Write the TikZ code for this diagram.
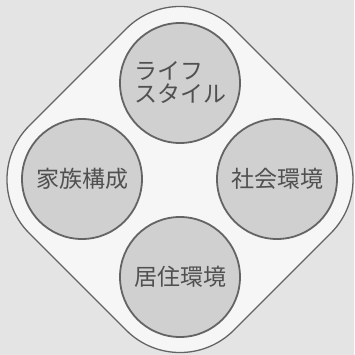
\documentclass[tikz,border=0pt]{standalone}
\usepackage{fontspec}
\newfontfamily\jpfont{Noto Sans CJK JP}
\definecolor{bgc}{RGB}{228,228,228}
\definecolor{diafill}{RGB}{246,246,246}
\definecolor{linec}{RGB}{100,100,100}
\definecolor{circfill}{RGB}{208,208,208}
\definecolor{textc}{RGB}{80,80,80}
\begin{document}
\begin{tikzpicture}[x=1pt,y=-1pt,
  topic/.style={circle,draw=linec,line width=1.8pt,fill=circfill,minimum size=120pt,inner sep=0pt,
    font=\jpfont\fontsize{23}{22}\selectfont,text=textc,align=left}]
\useasboundingbox (0,0) rectangle (354,355);
\fill[bgc] (0,0) rectangle (354,355);
\draw[draw=linec,line width=1.3pt,fill=diafill,rounded corners=76pt]
  (180,-25) -- (384.5,179.5) -- (180,384) -- (-24.5,179.5) -- cycle;
\node[topic] (life) at (180,83) {ライフ\\[1pt]スタイル};
\node[topic] (family) at (82,179) {家族構成};
\node[topic] (social) at (277,179) {社会環境};
\node[topic] (house) at (180,277) {居住環境};
\end{tikzpicture}
\end{document}
